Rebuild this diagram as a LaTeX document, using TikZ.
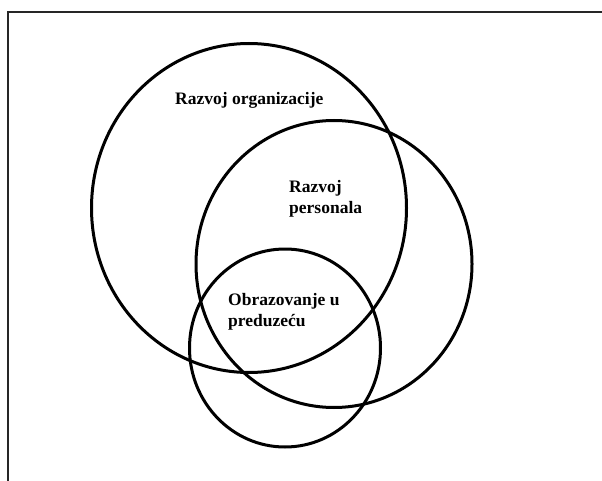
\documentclass[tikz,border=0pt]{standalone}
\usepackage{fontspec}
\setmainfont{Liberation Serif}
\usepackage{tikz}
\usetikzlibrary{shapes.geometric}

\begin{document}
\begin{tikzpicture}[x=1pt,y=-1pt,
		set node/.style={ellipse,draw,line width=3pt,inner sep=0pt},
		label node/.style={anchor=base west,inner sep=0pt,align=left,
			font=\fontsize{17.5}{20.5}\selectfont\bfseries}]
	\useasboundingbox (0,0) rectangle (602,481);
	% Frame
	\draw[line width=2pt,black!85] (602,12) -- (8,12) -- (8,481);
	% Sets
	\node[set node,minimum width=315pt,minimum height=329pt] (org) at (249,208) {};
	\node[set node,minimum width=276pt,minimum height=287pt] (pers) at (334,264) {};
	\node[set node,minimum width=191pt,minimum height=198pt] (obr) at (285,348) {};
	% Labels (base = last line)
	\node[label node] (orglabel) at (175,105) {Razvoj organizacije};
	\node[label node] (perslabel) at (289,213) {Razvoj\\personala};
	\node[label node] (obrlabel) at (228,326) {Obrazovanje u\\preduzeću};
\end{tikzpicture}
\end{document}
